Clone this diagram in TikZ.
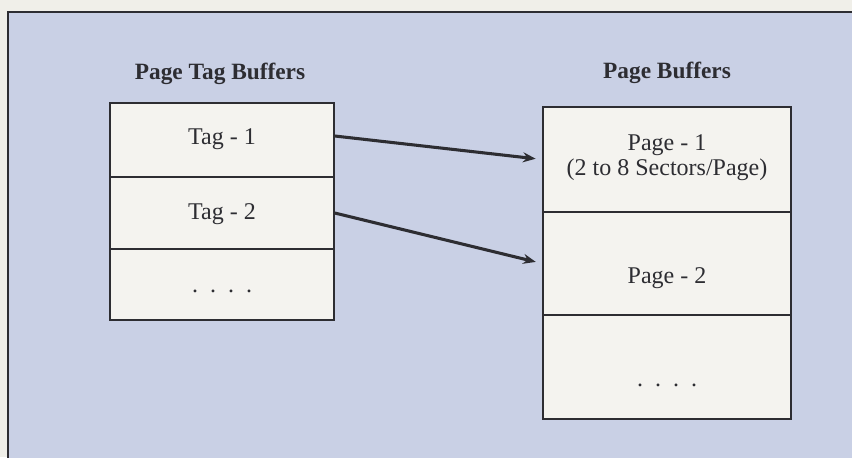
\documentclass[tikz,border=0pt]{standalone}
\usepackage{fontspec}
\setmainfont{Liberation Serif}
\usetikzlibrary{arrows.meta}

\definecolor{paper}{RGB}{240,239,233}
\definecolor{panelblue}{RGB}{201,208,229}
\definecolor{cellfill}{RGB}{244,243,239}
\definecolor{ink}{RGB}{45,45,50}

\tikzset{every picture/.style={line width=0.75pt}}
\tikzset{
  cell/.style={draw=ink, fill=cellfill, line width=1.1pt, inner sep=0pt},
  tagcell/.style={cell, minimum width=168pt},
  pagecell/.style={cell, minimum width=186pt},
  txt/.style={anchor=base, inner sep=0pt, text=ink, font=\fontsize{18}{21}\selectfont},
  heading/.style={txt, font=\fontsize{17.5}{21}\selectfont\bfseries},
  link/.style={draw=ink, line width=2.3pt, shorten >=5pt, -{Stealth[length=9.5pt,width=7.5pt]}}
}

\begin{document}
\begin{tikzpicture}[x=0.75pt,y=0.75pt,yscale=-1,xscale=1]
        %set diagram to 852 x 457
        \useasboundingbox (0,0) rectangle (852,457);
        \fill[paper] (0,0) rectangle (852,457);
        
        %Panel behind both buffers
        \draw[draw=ink, fill=panelblue, line width=1.1pt] (8,12) rectangle (880,480);
        
        %Left column: tag buffers
        \node[tagcell, minimum height=55.5pt] (tag1) at (222,140) {};
        \node[tagcell, minimum height=54pt] (tag2) at (222,213) {};
        \node[tagcell, minimum height=53.25pt] (tag3) at (222,284.5) {};
        
        %Right column: page buffers
        \node[pagecell, minimum height=78.75pt] (page1) at (667,159.5) {};
        \node[pagecell, minimum height=77.25pt] (page2) at (667,263.5) {};
        \node[pagecell, minimum height=78pt] (page3) at (667,367) {};
        
        %Headings
        \node[heading] (tagtitle) at (220,79) {Page Tag Buffers};
        \node[heading] (pagetitle) at (667,78) {Page Buffers};
        
        %Cell texts
        \node[txt] (tag1txt) at (222,144) {Tag - 1};
        \node[txt] (tag2txt) at (222,219) {Tag - 2};
        \node[txt] (tag3txt) at (222,292) {.\ \ .\ \ .\ \ .};
        \node[txt] (page1txt) at (667,150) {Page - 1};
        \node[txt] (page1sub) at (667,175) {(2 to 8 Sectors/Page)};
        \node[txt] (page2txt) at (667,283) {Page - 2};
        \node[txt] (page3txt) at (667,386) {.\ \ .\ \ .\ \ .};
        
        %Tag to page pointers
        \draw[link] ([yshift=-3pt]tag1.east) -- (page1.west);
        \draw[link] (tag2.east) -- (page2.west);

    \end{tikzpicture}
\end{document}
